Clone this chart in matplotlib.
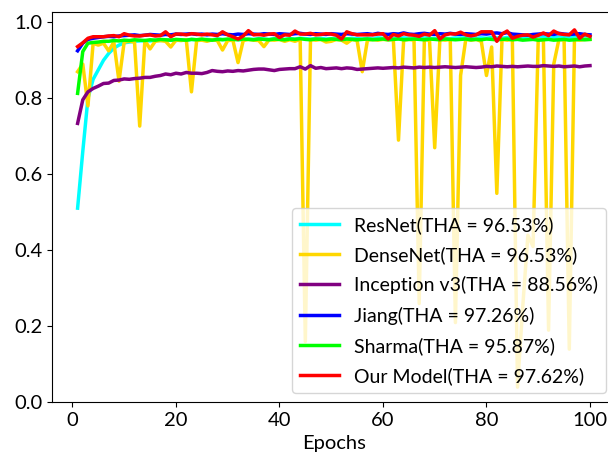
import matplotlib
matplotlib.use("Agg")
import matplotlib.pyplot as plt
import numpy as np

plt.rcParams['font.family'] = ['Lato', 'DejaVu Sans']

# Validation accuracy per epoch
epochs = list(range(1, 101))

resnet = [0.511, 0.660, 0.800, 0.850, 0.875, 0.900, 0.918, 0.932, 0.940, 0.946,
          0.948, 0.950, 0.951, 0.952, 0.951, 0.953, 0.952, 0.954, 0.953, 0.952,
          0.954, 0.953, 0.955, 0.954, 0.953, 0.955, 0.954, 0.956, 0.955, 0.954,
          0.956, 0.955, 0.954, 0.956, 0.955, 0.957, 0.956, 0.955, 0.957, 0.956,
          0.955, 0.957, 0.956, 0.958, 0.957, 0.956, 0.957, 0.958, 0.956, 0.957,
          0.958, 0.957, 0.956, 0.958, 0.957, 0.956, 0.958, 0.957, 0.959, 0.958,
          0.957, 0.958, 0.957, 0.959, 0.958, 0.957, 0.958, 0.959, 0.958, 0.957,
          0.959, 0.958, 0.957, 0.959, 0.958, 0.960, 0.959, 0.958, 0.959, 0.958,
          0.960, 0.959, 0.958, 0.960, 0.959, 0.958, 0.960, 0.959, 0.960, 0.959,
          0.961, 0.960, 0.959, 0.961, 0.960, 0.959, 0.961, 0.960, 0.961, 0.960]

densenet = [0.870, 0.890, 0.780, 0.945, 0.940, 0.945, 0.925, 0.948, 0.845, 0.948,
            0.950, 0.948, 0.727, 0.952, 0.930, 0.950, 0.952, 0.950, 0.935, 0.953,
            0.952, 0.954, 0.817, 0.952, 0.953, 0.950, 0.954, 0.952, 0.927, 0.952,
            0.953, 0.894, 0.952, 0.955, 0.953, 0.952, 0.936, 0.954, 0.953, 0.955,
            0.950, 0.954, 0.950, 0.955, 0.160, 0.955, 0.953, 0.955, 0.948, 0.950,
            0.955, 0.953, 0.945, 0.955, 0.952, 0.870, 0.953, 0.955, 0.953, 0.955,
            0.954, 0.955, 0.690, 0.953, 0.955, 0.953, 0.260, 0.955, 0.952, 0.670,
            0.955, 0.953, 0.955, 0.210, 0.860, 0.955, 0.953, 0.955, 0.950, 0.860,
            0.935, 0.550, 0.955, 0.953, 0.955, 0.040, 0.250, 0.440, 0.410, 0.955,
            0.953, 0.190, 0.890, 0.955, 0.953, 0.140, 0.955, 0.953, 0.955, 0.955]

inception = [0.734, 0.796, 0.817, 0.826, 0.832, 0.839, 0.840, 0.847, 0.848, 0.851,
             0.850, 0.852, 0.853, 0.855, 0.855, 0.858, 0.860, 0.864, 0.862, 0.866,
             0.864, 0.868, 0.866, 0.866, 0.865, 0.868, 0.873, 0.871, 0.870, 0.872,
             0.871, 0.873, 0.872, 0.874, 0.876, 0.877, 0.877, 0.875, 0.873, 0.876,
             0.877, 0.878, 0.878, 0.883, 0.877, 0.886, 0.879, 0.881, 0.878, 0.879,
             0.880, 0.878, 0.880, 0.879, 0.876, 0.877, 0.878, 0.879, 0.880, 0.879,
             0.880, 0.881, 0.880, 0.882, 0.881, 0.880, 0.882, 0.881, 0.882, 0.881,
             0.882, 0.883, 0.882, 0.881, 0.882, 0.883, 0.882, 0.881, 0.882, 0.884,
             0.883, 0.885, 0.884, 0.883, 0.884, 0.883, 0.884, 0.885, 0.884, 0.884,
             0.886, 0.885, 0.884, 0.885, 0.883, 0.884, 0.885, 0.883, 0.885, 0.886]

jiang = [0.925, 0.945, 0.955, 0.958, 0.960, 0.962, 0.963, 0.962, 0.964, 0.965,
         0.966, 0.967, 0.965, 0.966, 0.968, 0.967, 0.966, 0.968, 0.967, 0.969,
         0.968, 0.969, 0.970, 0.968, 0.969, 0.967, 0.969, 0.968, 0.970, 0.968,
         0.967, 0.969, 0.968, 0.970, 0.969, 0.968, 0.970, 0.969, 0.968, 0.970,
         0.969, 0.968, 0.970, 0.971, 0.969, 0.968, 0.970, 0.969, 0.968, 0.970,
         0.969, 0.968, 0.970, 0.969, 0.968, 0.969, 0.970, 0.968, 0.971, 0.969,
         0.968, 0.970, 0.969, 0.972, 0.969, 0.968, 0.970, 0.971, 0.969, 0.968,
         0.970, 0.969, 0.971, 0.969, 0.968, 0.970, 0.969, 0.968, 0.970, 0.969,
         0.971, 0.972, 0.970, 0.973, 0.969, 0.968, 0.967, 0.966, 0.968, 0.969,
         0.970, 0.969, 0.968, 0.971, 0.969, 0.968, 0.969, 0.970, 0.968, 0.967]

sharma = [0.813, 0.923, 0.945, 0.947, 0.948, 0.950, 0.950, 0.952, 0.951, 0.953,
          0.952, 0.954, 0.953, 0.952, 0.954, 0.953, 0.955, 0.954, 0.953, 0.955,
          0.954, 0.953, 0.955, 0.954, 0.956, 0.954, 0.953, 0.955, 0.954, 0.956,
          0.955, 0.954, 0.956, 0.955, 0.954, 0.956, 0.955, 0.954, 0.956, 0.955,
          0.954, 0.956, 0.955, 0.957, 0.955, 0.954, 0.956, 0.955, 0.954, 0.956,
          0.955, 0.954, 0.956, 0.955, 0.954, 0.955, 0.956, 0.954, 0.955, 0.956,
          0.954, 0.955, 0.956, 0.954, 0.955, 0.956, 0.955, 0.954, 0.956, 0.955,
          0.954, 0.956, 0.955, 0.954, 0.955, 0.956, 0.954, 0.955, 0.954, 0.956,
          0.955, 0.954, 0.955, 0.956, 0.954, 0.955, 0.953, 0.954, 0.955, 0.953,
          0.954, 0.955, 0.953, 0.954, 0.955, 0.953, 0.954, 0.955, 0.954, 0.955]

ours = [0.936, 0.946, 0.958, 0.962, 0.962, 0.962, 0.964, 0.965, 0.962, 0.970,
        0.966, 0.964, 0.964, 0.966, 0.967, 0.964, 0.965, 0.975, 0.962, 0.969,
        0.969, 0.967, 0.970, 0.969, 0.967, 0.969, 0.967, 0.965, 0.975, 0.967,
        0.962, 0.956, 0.964, 0.978, 0.967, 0.968, 0.966, 0.969, 0.970, 0.960,
        0.967, 0.966, 0.977, 0.969, 0.969, 0.971, 0.967, 0.968, 0.970, 0.969,
        0.966, 0.956, 0.975, 0.970, 0.967, 0.967, 0.967, 0.967, 0.969, 0.970,
        0.956, 0.968, 0.964, 0.970, 0.967, 0.966, 0.963, 0.969, 0.966, 0.978,
        0.956, 0.967, 0.970, 0.969, 0.974, 0.967, 0.964, 0.967, 0.975, 0.975,
        0.975, 0.950, 0.969, 0.977, 0.958, 0.963, 0.966, 0.967, 0.961, 0.966,
        0.972, 0.965, 0.977, 0.970, 0.968, 0.967, 0.980, 0.958, 0.969, 0.963]

labels = ['ResNet(THA = 96.53%)', 'DenseNet(THA = 96.53%)', 'Inception v3(THA = 88.56%)',
          'Jiang(THA = 97.26%)', 'Sharma(THA = 95.87%)', 'Our Model(THA = 97.62%)']
colors = ['cyan', 'gold', 'purple', 'blue', 'lime', 'red']
series = [resnet, densenet, inception, jiang, sharma, ours]

fig = plt.figure(figsize=(6.08, 4.63), dpi=100)
# the original is cropped on the right, so the axes run past the figure edge
ax = fig.add_axes([0.0855, 0.131, 0.927, 0.843])

for vals, lab, col in zip(series, labels, colors):
    ax.plot(epochs, vals, color=col, lw=2.5, label=lab)

ax.set_ylim(0, 1.027)
ax.set_xticks([0, 20, 40, 60, 80, 100])
ax.set_yticks([0.0, 0.2, 0.4, 0.6, 0.8, 1.0])
ax.tick_params(labelsize=14.5)
ax.set_xlabel('Epochs', fontsize=14.5)

ax.legend(loc='lower right', fontsize=14, labelspacing=0.63)

fig.savefig('out.png', dpi=100)
